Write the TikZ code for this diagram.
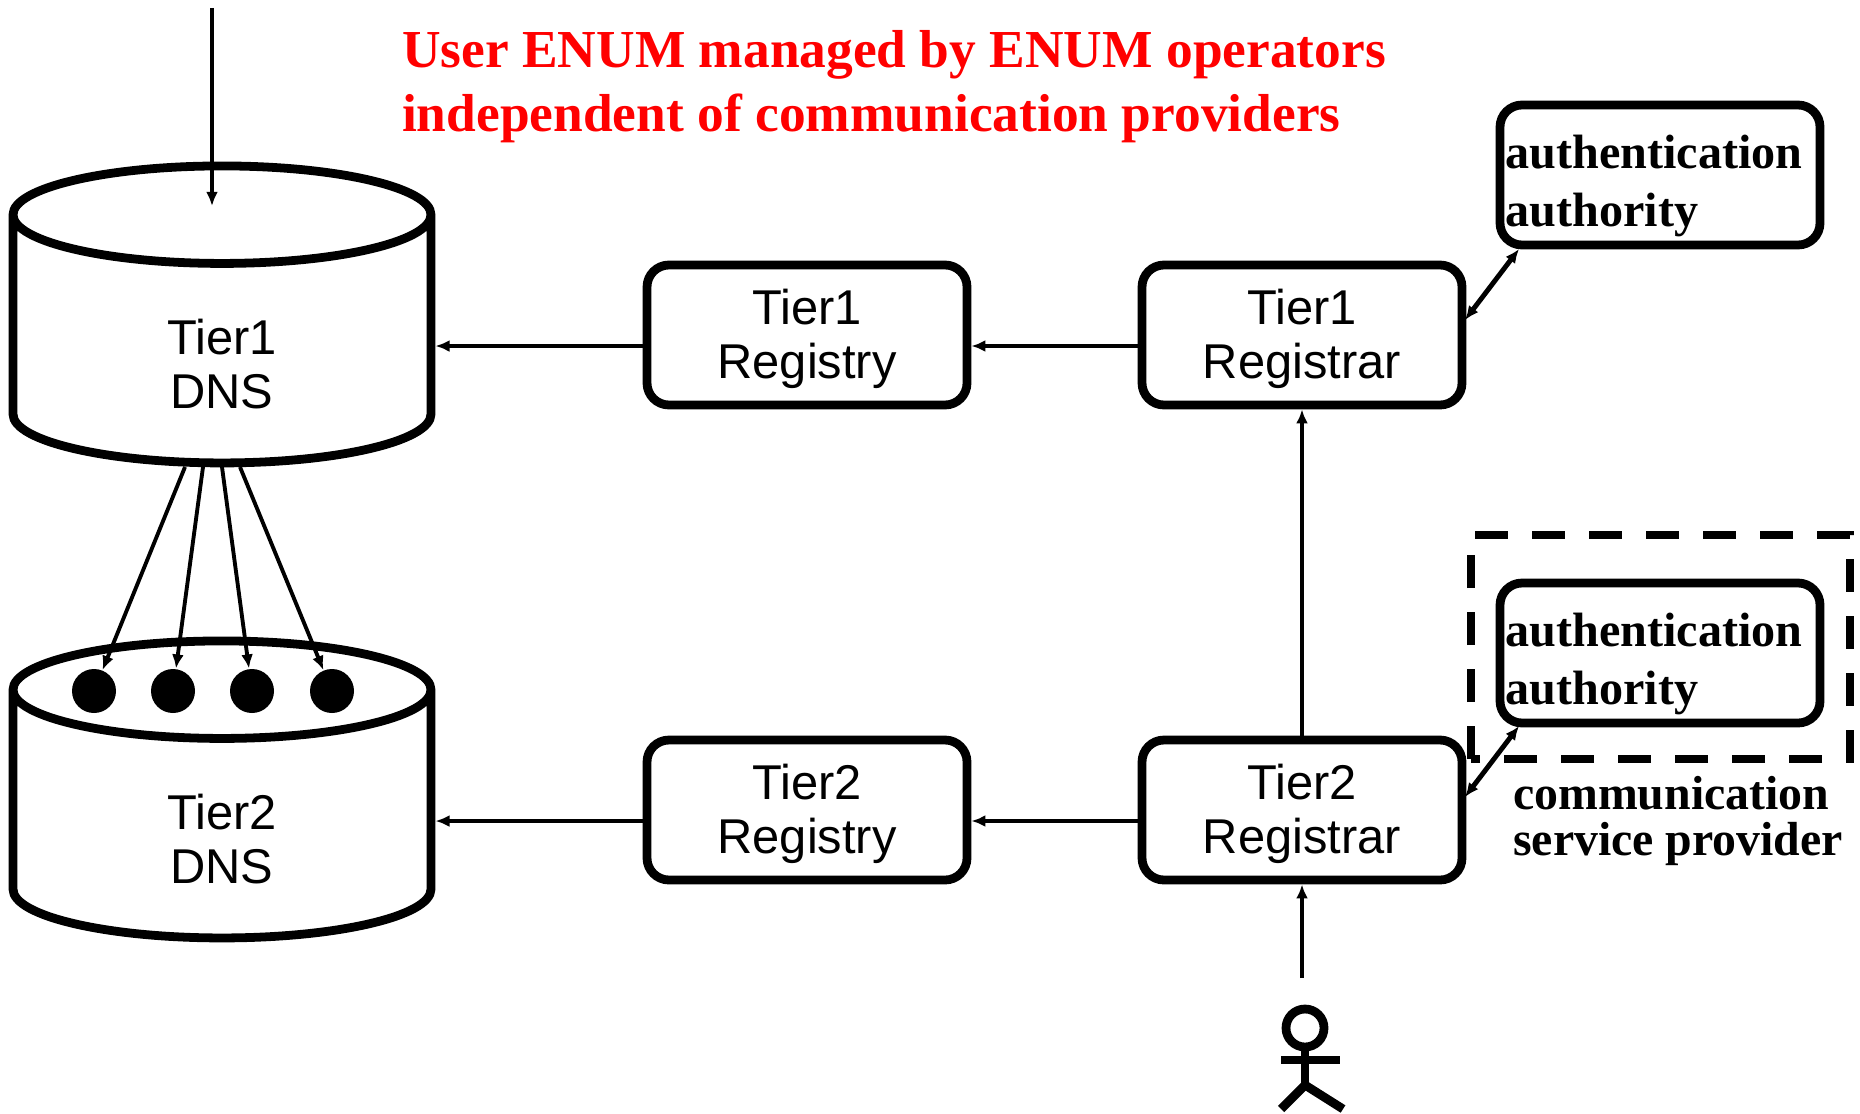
\documentclass[tikz,border=0pt]{standalone}
\usepackage{fontspec}
\setmainfont{Liberation Serif}
\newfontfamily\armfont{Liberation Sans}
\usetikzlibrary{shapes.geometric,arrows.meta}
\tikzset{
  >={Latex[length=4pt,width=3.4pt]},
  heavy/.style={line width=2.5pt},
  flow/.style={->, line width=1.1pt},
  tierbox/.style={draw, heavy, rectangle, rounded corners=0.22cm, minimum width=3.2cm, minimum height=1.4cm, inner sep=0pt, text width=3.1cm, text height=0.38cm, text depth=0.6cm, align=center, font=\armfont\fontsize{13.9}{15.4}\selectfont},
  authbox/.style={draw, heavy, rectangle, rounded corners=0.22cm, minimum width=3.2cm, minimum height=1.4cm, inner sep=0pt, text width=3.09cm, text height=0.4cm, text depth=0.53cm, align=left, font=\bfseries\fontsize{13.7}{16.4}\selectfont},
  dnsdrum/.style={draw, heavy, cylinder, shape border rotate=90, aspect=0.325, minimum width=4.18cm, minimum height=2.97cm, inner sep=0pt, text width=3cm, text height=0.51cm, text depth=0.24cm, align=center, font=\armfont\fontsize{13.9}{15.4}\selectfont},
  dotmark/.style={circle, fill, minimum size=0.44cm, inner sep=0pt},
}
\begin{document}
\begin{tikzpicture}
  \useasboundingbox (0,0) rectangle (18.6,11.13);
  % databases
  \node[dnsdrum] (dnsone) at (2.22,7.72) {Tier1\\DNS};
  \node[dnsdrum] (dnstwo) at (2.22,2.97) {Tier2\\DNS};
  % top row
  \node[tierbox] (regyone) at (8.07,7.78) {Tier1\\Registry};
  \node[tierbox] (rarone) at (13.02,7.78) {Tier1\\Registrar};
  \node[authbox] (authone) at (16.60,9.38) {authentication\\authority};
  % bottom row
  \node[tierbox] (regytwo) at (8.07,3.03) {Tier2\\Registry};
  \node[tierbox] (rartwo) at (13.02,3.03) {Tier2\\Registrar};
  \node[authbox] (authtwo) at (16.60,4.60) {authentication\\authority};
  % dashed frame
  \draw[line width=2.1pt, dashed, dash pattern=on 0.33cm off 0.24cm] (14.71,3.54) rectangle (18.50,5.78);
  \node[font=\bfseries\fontsize{13.6}{13.1}\selectfont, align=left, inner sep=0pt] (provider) at (16.78,2.92) {communication\\service provider};
  % heading
  \node[text=red, font=\bfseries\fontsize{15.2}{18.2}\selectfont, align=left, inner sep=0pt] (heading) at (8.94,10.26) {User ENUM managed by ENUM operators\\independent of communication providers};
  % dots
  \node[dotmark] (dotA) at (0.94,4.22) {};
  \node[dotmark] (dotB) at (1.73,4.22) {};
  \node[dotmark] (dotC) at (2.52,4.22) {};
  \node[dotmark] (dotD) at (3.32,4.22) {};
  % user
  \node[draw, heavy, circle, minimum size=0.38cm, inner sep=0pt] (head) at (13.05,0.85) {};
  \coordinate (hip) at (13.05,0.28);
  \coordinate (userin) at (13.02,1.35);
  \coordinate (entry) at (2.12,11.05);
  \coordinate (tapA) at (1.85,6.46);
  \coordinate (tapB) at (2.03,6.46);
  \coordinate (tapC) at (2.22,6.46);
  \coordinate (tapD) at (2.40,6.46);
  \draw[heavy] (head) -- (hip);
  \draw[heavy] (12.81,0.53) -- (13.40,0.53);
  \draw[heavy] (hip) -- (12.81,0.04);
  \draw[heavy] (hip) -- (13.43,0.04);
  % connectors
  \draw[flow] (entry) -- (2.12,9.07);
  \draw[flow] ([yshift=-0.11cm]regyone.west) -- ([yshift=-0.11cm]dnsone.east |- regyone);
  \draw[flow] ([yshift=-0.11cm]rarone.west) -- ([yshift=-0.11cm]regyone.east);
  \draw[flow] ([yshift=-0.11cm]regytwo.west) -- ([yshift=-0.11cm]dnstwo.east |- regytwo);
  \draw[flow] ([yshift=-0.11cm]rartwo.west) -- ([yshift=-0.11cm]regytwo.east);
  \draw[flow] (rartwo) -- (rarone);
  \draw[flow] (userin) -- (rartwo);
  \draw[<->, line width=1.4pt] (14.65,7.93) -- (15.19,8.64);
  \draw[<->, line width=1.4pt] (14.65,3.16) -- (15.19,3.87);
  \draw[flow] (tapA) -- (dotA);
  \draw[flow] (tapB) -- (dotB);
  \draw[flow] (tapC) -- (dotC);
  \draw[flow] (tapD) -- (dotD);
\end{tikzpicture}
\end{document}
